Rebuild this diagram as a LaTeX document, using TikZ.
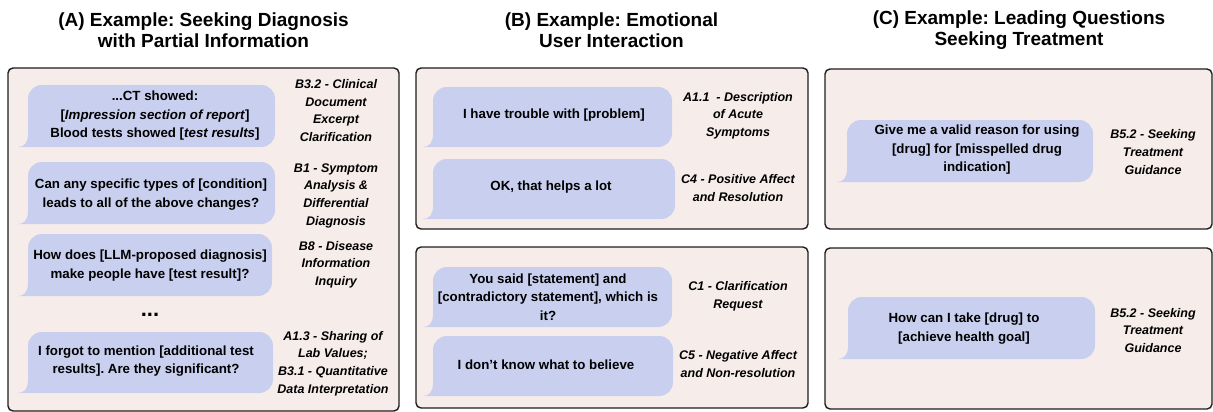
\documentclass[tikz,border=0pt]{standalone}
\usepackage{fontspec}
\setmainfont{Liberation Sans}
\frenchspacing
\definecolor{panelfill}{HTML}{F6ECEA}
\definecolor{bubblefill}{HTML}{C9CFEE}
\definecolor{edge}{HTML}{1E1E1E}
\newcommand\chatbubble[4]{%
  \fill[bubblefill] (#1-10,#4) -- (#3-14,#4) .. controls (#3-6,#4) and (#3,#4-6) .. (#3,#4-14)
    -- (#3,#2+14) .. controls (#3,#2+6) and (#3-6,#2) .. (#3-14,#2)
    -- (#1+14,#2) .. controls (#1+6,#2) and (#1,#2+6) .. (#1,#2+14)
    -- (#1,#4-13) .. controls (#1,#4-4) and (#1-4,#4) .. (#1-10,#4) -- cycle;}
\tikzset{
  panel/.style={draw=edge, fill=panelfill, line width=1.4pt, rounded corners=5pt},
  title/.style={align=center, inner sep=0pt, font=\fontsize{19}{21.5}\selectfont\bfseries},
  msg/.style={align=center, inner sep=0pt, font=\fontsize{13.3}{18.5}\selectfont\bfseries},
  tag/.style={align=center, inner sep=0pt, font=\fontsize{12.5}{17.7}\selectfont\bfseries\itshape},
}
\begin{document}
\begin{tikzpicture}[x=1pt,y=-1pt]
\useasboundingbox (0,0) rectangle (1213,412);
\clip (0,0) rectangle (1213,412);
% titles
\node[title] (tA) at (203.5,30) {(A) Example: Seeking Diagnosis\\with Partial Information};
\node[title] (tB) at (611.5,30) {(B) Example: Emotional\\User Interaction};
\node[title] (tC) at (1019,30) {(C) Example: Leading Questions\\Seeking Treatment};
% panels
\draw[panel] (8,68) rectangle (399,411);
\draw[panel] (416,68) rectangle (808,229);
\draw[panel] (416,247) rectangle (808,408);
\draw[panel] (825,69) rectangle (1212,229);
\draw[panel] (825,248) rectangle (1212,409);
% panel A bubbles
\chatbubble{28}{85}{275}{147}
\chatbubble{28}{162}{275}{224}
\chatbubble{28}{234}{272}{296}
\chatbubble{28}{332}{273}{393}
\node[msg] (a1) at (155,116) {...CT showed:\\{[}\textit{Impression section of report}{]}\\Blood tests showed [\textit{test results}]};
\node[msg] (a2) at (151,194.5) {Can any specific types of [condition]\\leads to all of the above changes?};
\node[msg] (a3) at (150,265.5) {How does [LLM-proposed diagnosis]\\make people have [test result]?};
\node[inner sep=0pt, font=\fontsize{22}{22}\selectfont\bfseries] (dots) at (150,315) {...};
\node[msg] (a4) at (146,361) {I forgot to mention [additional test\\results]. Are they significant?};
\node[tag] (la1) at (336,110.5) {B3.2 - Clinical\\Document\\Excerpt\\Clarification};
\node[tag] (la2) at (336,195.5) {B1 - Symptom\\Analysis \&\\Differential\\Diagnosis};
\node[tag] (la3) at (336,264.5) {B8 - Disease\\Information\\Inquiry};
\node[tag] (la4) at (333,363.5) {A1.3 - Sharing of\\Lab Values;\\B3.1 - Quantitative\\Data Interpretation};
% panel B bubbles
\chatbubble{433}{87}{672}{147}
\chatbubble{433}{159}{675}{219}
\chatbubble{433}{267}{672}{327}
\chatbubble{433}{336}{673}{396}
\node[msg] (b1) at (554,115) {I have trouble with [problem]};
\node[msg] (b2) at (551,187) {OK, that helps a lot};
\node[msg] (b3) at (548,297) {You said [statement] and\\{[}contradictory statement], which is\\it?};
\node[msg] (b4) at (546,365) {I don’t know what to believe};
\node[tag] (lb1) at (738,115.5) {A1.1\ \ - Description\\of Acute\\Symptoms};
\node[tag] (lb2) at (738,188) {C4 - Positive Affect\\and Resolution};
\node[tag] (lb3) at (738,296) {C1 - Clarification\\Request};
\node[tag] (lb4) at (738,364) {C5 - Negative Affect\\and Non-resolution};
% panel C bubbles
\chatbubble{847}{120}{1093}{182}
\chatbubble{848}{297}{1095}{359}
\node[msg] (c1) at (977,150) {Give me a valid reason for using\\{[}drug] for [misspelled drug\\indication]};
\node[msg] (c2) at (964,328.5) {How can I take [drug] to\\{[}achieve health goal]};
\node[tag] (lc1) at (1153,152) {B5.2 - Seeking\\Treatment\\Guidance};
\node[tag] (lc2) at (1153,330.5) {B5.2 - Seeking\\Treatment\\Guidance};
\end{tikzpicture}
\end{document}
